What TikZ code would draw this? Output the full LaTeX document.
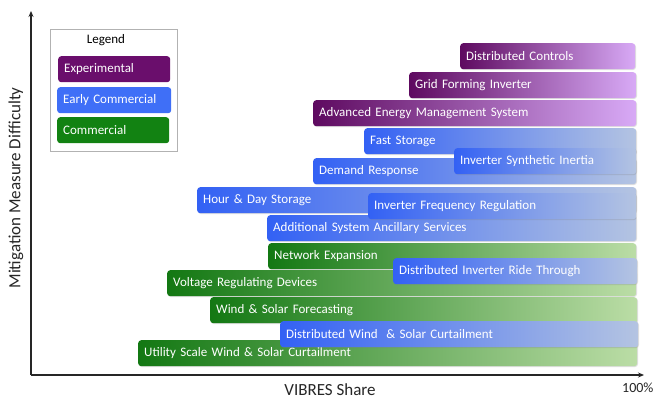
\documentclass[tikz,border=0pt]{standalone}
\usepackage{fontspec}
\setmainfont{Carlito}
\usetikzlibrary{arrows.meta,shadows}
\definecolor{pD}{HTML}{5E0A60}
\definecolor{pL}{HTML}{D8AAF6}
\definecolor{bD}{HTML}{3361F4}
\definecolor{bL}{HTML}{B4C4E2}
\definecolor{gD}{HTML}{137813}
\definecolor{gL}{HTML}{BBDDA6}
\definecolor{legP}{HTML}{6A0E6C}
\definecolor{legB}{HTML}{3F6FF7}
\definecolor{legG}{HTML}{128212}
\tikzset{
  barbase/.style={rounded corners=3pt, anchor=north west, inner xsep=6pt, inner ysep=0pt,
    minimum height=26pt, text=white, font=\fontsize{13}{14}\selectfont, align=left,
    drop shadow={shadow xshift=0.8pt, shadow yshift=-0.8pt, opacity=0.25}},
  barP/.style={barbase, left color=pD, right color=pL},
  barB/.style={barbase, left color=bD, right color=bL},
  barG/.style={barbase, left color=gD, right color=gL},
  legitem/.style={rounded corners=3pt, anchor=north west, inner xsep=6pt, inner ysep=0pt,
    minimum height=26pt, text=white, font=\fontsize{13}{14}\selectfont, align=left},
  axisline/.style={line width=1.3pt, draw=black!85, -{Stealth[length=6pt,width=5pt]}},
}
\newcommand{\mybar}[6]{% style, name, x1, y1, x2, text
  \pgfmathsetmacro{\tw}{#5-#3-12}
  \node[#1, text width=\tw pt] (#2) at (#3,#4) {#6};}
\begin{document}
\begin{tikzpicture}[x=1pt,y=-1pt]
\useasboundingbox (0,0) rectangle (654,399);
\fill[white] (0,0) rectangle (654,399);
% axes
\coordinate (o) at (31,375);
\coordinate (ytop) at (31,11);
\coordinate (xend) at (644,375);
\draw[axisline] (o) -- (ytop);
\draw[axisline] (o) -- (xend);
\node[rotate=90, font=\fontsize{17}{19}\selectfont, text=black!85] (ylab) at (16,188) {Mitigation Measure Difficulty};
\node[font=\fontsize{17}{19}\selectfont, text=black!85] (xlab) at (330,390) {VIBRES Share};
\node[font=\fontsize{14}{16}\selectfont, text=black!85, anchor=west, inner xsep=0pt] (pct) at (622,388) {100\%};
% legend
\node[draw=black!30, fill=white, line width=0.8pt, minimum width=127pt, minimum height=122pt, anchor=north west,
  drop shadow={shadow xshift=1pt, shadow yshift=-1pt, opacity=0.3}] (legbox) at (50,29) {};
\node[font=\fontsize{13}{14}\selectfont] (legt) at (106,40) {Legend};
\node[legitem, fill=legP, text width=100pt] (lexp) at (58,56) {Experimental};
\node[legitem, fill=legB, text width=102pt] (learly) at (57,87) {Early Commercial};
\node[legitem, fill=legG, text width=100pt] (lcom) at (57,117) {Commercial};
% bars
\mybar{barP}{dc}{460}{43}{635}{Distributed Controls}
\mybar{barP}{gfi}{409}{72}{636}{Grid Forming Inverter}
\mybar{barP}{aems}{313}{100}{636}{Advanced Energy Management System}
\mybar{barB}{fs}{364}{128}{636}{Fast Storage}
\mybar{barB}{dr}{313}{158}{636}{Demand Response}
\mybar{barB}{isi}{454}{148}{636}{Inverter Synthetic Inertia}
\mybar{barB}{hds}{197}{187}{636}{Hour \& Day Storage}
\mybar{barB}{asas}{267}{215}{636}{Additional System Ancillary Services}
\mybar{barB}{ifr}{368}{193}{636}{Inverter Frequency Regulation}
\mybar{barG}{ne}{268}{243}{636}{Network Expansion}
\mybar{barG}{vrd}{167}{270}{636}{Voltage Regulating Devices}
\mybar{barB}{dirt}{393}{258}{637}{Distributed Inverter Ride Through}
\mybar{barG}{wsf}{210}{297}{637}{Wind \& Solar Forecasting}
\mybar{barG}{uswsc}{138}{340}{637}{Utility Scale Wind \& Solar Curtailment}
\mybar{barB}{dwsc}{280}{321}{638}{Distributed Wind ~\& Solar Curtailment}
\end{tikzpicture}
\end{document}
